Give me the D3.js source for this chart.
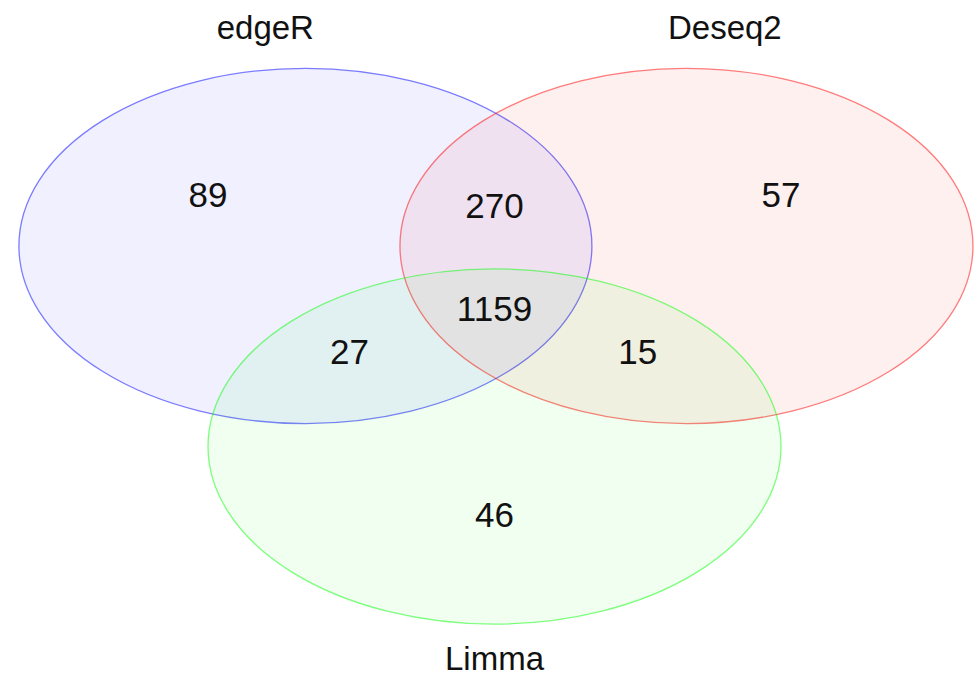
<!DOCTYPE html>
<html>
<head>
<meta charset="utf-8">
<script src="https://cdn.jsdelivr.net/npm/d3@7"></script>
<style>
  body { margin: 0; background: #fff; }
  svg { display: block; font-family: "Liberation Sans", Arial, Helvetica, sans-serif; }
</style>
</head>
<body>
<svg id="chart" width="974" height="678"></svg>
<script>
// Sets and region counts
const setNames = ["edgeR", "Deseq2", "Limma"];
const setColors = ["#0000ff", "#ff0000", "#00ff00"];
const regionKeys = ["edgeR", "edgeR&Deseq2", "Deseq2", "edgeR&Deseq2&Limma", "edgeR&Limma", "Deseq2&Limma", "Limma"];
const regionCounts = [89, 270, 57, 1159, 27, 15, 46];

// Layout in unit space (venn geometry, not data)
const ellipses = [
  { cx: -0.33, cy: -0.35, rx: 0.5, ry: 0.31 },
  { cx: 0.335, cy: -0.35, rx: 0.5, ry: 0.31 },
  { cx: 0.0, cy: 0.0, rx: 0.5, ry: 0.31 },
];
const regionPos = {
  "edgeR": [-0.5, -0.44],
  "edgeR&Deseq2": [0.0, -0.42],
  "Deseq2": [0.5, -0.44],
  "edgeR&Deseq2&Limma": [0.0, -0.24],
  "edgeR&Limma": [-0.253, -0.165],
  "Deseq2&Limma": [0.25, -0.165],
  "Limma": [0.0, 0.118],
};
const labelPos = [[-0.4, -0.731], [0.402, -0.731], [0.0, 0.37]];

const svg = d3.select("#chart");
const k = 573;
const x = d3.scaleLinear().domain([0, 1]).range([494.5, 494.5 + k]);
const y = d3.scaleLinear().domain([0, 1]).range([446.5, 446.5 + k]);

svg.selectAll("ellipse.set")
  .data(ellipses)
  .enter()
  .append("ellipse")
  .attr("class", "set")
  .attr("cx", (d) => x(d.cx))
  .attr("cy", (d) => y(d.cy))
  .attr("rx", (d) => d.rx * k)
  .attr("ry", (d) => d.ry * k)
  .attr("fill", (d, i) => setColors[i])
  .attr("fill-opacity", 0.058)
  .attr("stroke", (d, i) => setColors[i])
  .attr("stroke-opacity", 0.5)
  .attr("stroke-width", 1.3);

svg.selectAll("text.count")
  .data(regionKeys)
  .enter()
  .append("text")
  .attr("class", "count")
  .attr("x", (d) => x(regionPos[d][0]))
  .attr("y", (d) => y(regionPos[d][1]))
  .attr("text-anchor", "middle")
  .attr("dominant-baseline", "central")
  .attr("font-size", 35)
  .attr("fill", "#111")
  .text((d, i) => regionCounts[i]);

svg.selectAll("text.label")
  .data(setNames)
  .enter()
  .append("text")
  .attr("class", "label")
  .attr("x", (d, i) => x(labelPos[i][0]))
  .attr("y", (d, i) => y(labelPos[i][1]))
  .attr("text-anchor", "middle")
  .attr("dominant-baseline", "central")
  .attr("font-size", 33)
  .attr("fill", "#111")
  .text((d) => d);
</script>
</body>
</html>
